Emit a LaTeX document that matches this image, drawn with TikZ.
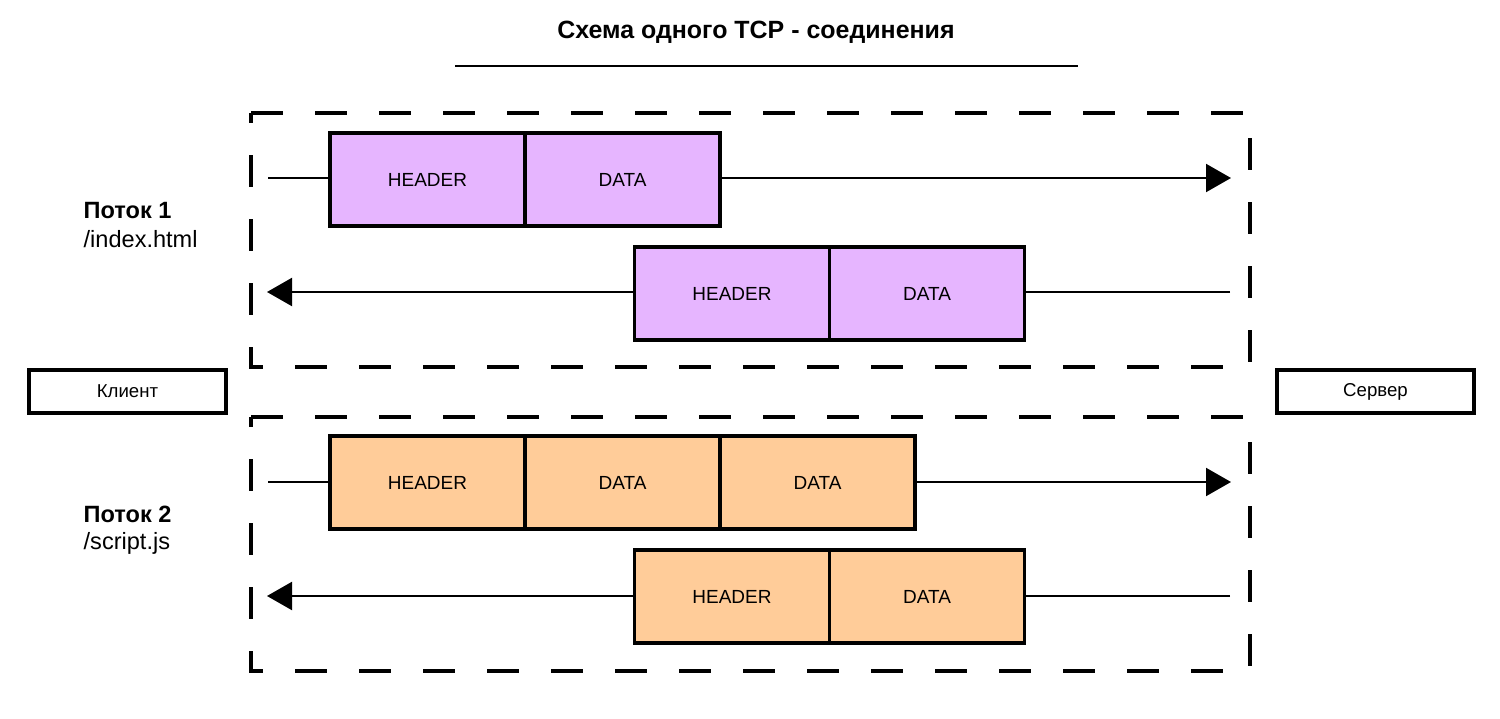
\documentclass[tikz,border=0pt]{standalone}
\usepackage{fontspec}
\setmainfont{Liberation Sans}
\usetikzlibrary{positioning, arrows.meta}

\tikzset{
  seg/.style={draw, line width=0.95pt, minimum width=1.95cm, minimum height=0.93cm,
    inner sep=0pt, outer sep=0pt, font=\fontsize{5.4}{6}\selectfont},
  purple/.style={seg, fill=violetfill},
  orange/.style={seg, fill=orangefill},
  host/.style={draw, line width=0.95pt, minimum width=1.97cm, minimum height=0.43cm,
    inner sep=0pt, font=\fontsize{5.3}{6}\selectfont},
  label/.style={anchor=west, inner sep=0pt, font=\fontsize{6.7}{8}\selectfont},
  flow/.style={line width=0.6pt, -{Triangle[length=0.25cm, width=0.28cm]}},
  plain/.style={line width=0.6pt},
  group/.style={line width=0.95pt, dash pattern=on 0.32cm off 0.32cm},
}
\definecolor{violetfill}{HTML}{E6B5FF}
\definecolor{orangefill}{HTML}{FFCC99}

\begin{document}
\begin{tikzpicture}[node distance=0cm]
\useasboundingbox (0,0) rectangle (15,-7.19);

% title
\node[font=\fontsize{7.1}{8}\selectfont\bfseries] (title) at (7.56,-0.32) {Схема одного TCP - соединения};
\coordinate (ul) at (4.55,-0.66);
\coordinate (ur) at (10.78,-0.66);
\draw[plain] (ul) -- (ur);

% groups
\draw[group] (2.51,-1.13) -- (12.50,-1.13) -- (12.50,-3.67) -- (2.51,-3.67) -- cycle;
\draw[group] (2.51,-4.17) -- (12.50,-4.17) -- (12.50,-6.71) -- (2.51,-6.71) -- cycle;

% hosts
\node[host] (client) at (1.275,-3.915) {Клиент};
\node[host] (server) at (13.755,-3.915) {Сервер};

% stream 1
\node[label, font=\fontsize{6.7}{8}\selectfont\bfseries] (s1name) at (0.83,-2.11) {Поток 1};
\node[label] (s1file) at (0.83,-2.39) {/index.html};

\node[purple] (h1) at (4.275,-1.795) {HEADER};
\node[purple] (d1) [right=of h1] {DATA};
\coordinate (a1) at (2.68,-1.78);
\coordinate (b1) at (12.31,-1.78);
\draw[plain] (a1) -- (a1 -| h1.west);
\draw[flow] (d1.east |- b1) -- (b1);

\node[purple] (h2) at (7.32,-2.935) {HEADER};
\node[purple] (d2) [right=of h2] {DATA};
\coordinate (a2) at (12.30,-2.92);
\coordinate (b2) at (2.67,-2.92);
\draw[plain] (a2) -- (a2 -| d2.east);
\draw[flow] (h2.west |- b2) -- (b2);

% stream 2
\node[label, font=\fontsize{6.7}{8}\selectfont\bfseries] (s2name) at (0.83,-5.14) {Поток 2};
\node[label] (s2file) at (0.83,-5.43) {/script.js};

\node[orange] (h3) at (4.275,-4.825) {HEADER};
\node[orange] (d3) [right=of h3] {DATA};
\node[orange] (d4) [right=of d3] {DATA};
\coordinate (a3) at (2.68,-4.82);
\coordinate (b3) at (12.31,-4.82);
\draw[plain] (a3) -- (a3 -| h3.west);
\draw[flow] (d4.east |- b3) -- (b3);

\node[orange] (h4) at (7.32,-5.965) {HEADER};
\node[orange] (d5) [right=of h4] {DATA};
\coordinate (a4) at (12.30,-5.96);
\coordinate (b4) at (2.67,-5.96);
\draw[plain] (a4) -- (a4 -| d5.east);
\draw[flow] (h4.west |- b4) -- (b4);

\end{tikzpicture}
\end{document}
